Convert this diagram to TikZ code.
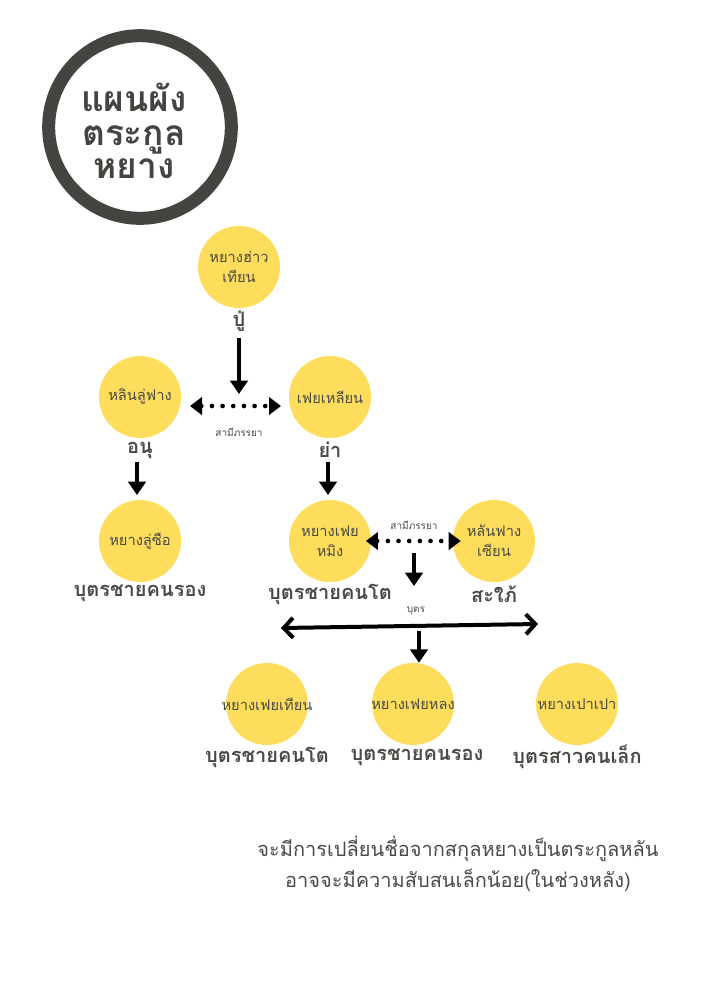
\documentclass[tikz,border=0pt]{standalone}
\usepackage{fontspec}
\setmainfont[Script=Thai]{Loma}
\usetikzlibrary{arrows.meta}
\definecolor{gold}{HTML}{FDDD5B}
\definecolor{ring}{HTML}{444440}
\definecolor{ink}{HTML}{4A4A46}
\tikzset{
  person/.style={circle, fill=gold, minimum size=61.5pt, inner sep=-14pt,
    align=center, text=ink, font=\fontsize{11}{15}\selectfont},
  role/.style={text=ink, font=\bfseries\fontsize{15}{17}\selectfont},
  small/.style={text=ink, font=\fontsize{7.5}{9}\selectfont},
  down/.style={line width=3.5pt, -{Triangle[length=10pt,width=13pt]}},
  wed/.style={line width=3.5pt, line cap=round, dash pattern=on 0pt off 8pt,
    {Triangle[length=9pt,width=13pt]}-{Triangle[length=9pt,width=13pt]}},
  kids/.style={line width=3pt, {Straight Barb[length=7pt,width=15pt]}-{Straight Barb[length=7pt,width=15pt]}}
}
\begin{document}
\begin{tikzpicture}[x=0.75pt, y=-0.75pt]
        \useasboundingbox (0,0) rectangle (707,1000);
        % logo
        \node[circle, draw=ring, line width=9.75pt, minimum size=137pt] (logo) at (140,127) {};
        \node[align=center, text=ring, font=\bfseries\fontsize{26.5}{25}\selectfont] (title) at (134,131) {แผนผัง\\ตระกูล\\หยาง};
        % people
        \node[person] (v0) at (239,267) {หยางฮ่าว\\เทียน};
        \node[person] (v1) at (140,397) {หลินลู่ฟาง};
        \node[person] (v2) at (330,397) {เฟยเหลียน};
        \node[person] (v3) at (140,541) {หยางลู่ซือ};
        \node[person] (v4) at (330,541) {หยางเฟย\\หมิง};
        \node[person] (v5) at (494,541) {หลันฟาง\\เซียน};
        \node[person] (v6) at (267,704) {หยางเฟยเทียน};
        \node[person] (v7) at (413,704) {หยางเฟยหลง};
        \node[person] (v8) at (577,704) {หยางเปาเปา};
        % roles
        \node[role] (t0) at (239,321) {ปู่};
        \node[role] (t1) at (140,450) {อนุ};
        \node[role] (t2) at (330,450) {ย่า};
        \node[role] (t3) at (140,593) {บุตรชายคนรอง};
        \node[role] (t4) at (330,594) {บุตรชายคนโต};
        \node[role] (t5) at (494,594) {สะใภ้};
        \node[role] (t6) at (267,757) {บุตรชายคนโต};
        \node[role] (t7) at (417,757) {บุตรชายคนรอง};
        \node[role] (t8) at (577,757) {บุตรสาวคนเล็ก};
        \node[small] (s0) at (239,432) {สามีภรรยา};
        \node[small] (s1) at (414,525) {สามีภรรยา};
        \node[small] (s2) at (416,611) {บุตร};
        % links
        \coordinate (m0) at (239,394);
        \coordinate (w0) at (190,406);
        \coordinate (w1) at (281,406);
        \coordinate (m1) at (414,553);
        \coordinate (m2) at (414,586);
        \coordinate (k0) at (281,628);
        \coordinate (k1) at (538,624);
        \coordinate (m3) at (419,631);
        \draw[down] (239,338) -- (m0);
        \draw[wed] (w0) -- (w1);
        \draw[down] (137,462) -- (137,495);
        \draw[down] (328,462) -- (328,495);
        \draw[wed] ([xshift=-4]v4.east) -- ([xshift=6]v5.west);
        \draw[down] (m1) -- (m2);
        \draw[kids] (k0) -- (k1);
        \draw[down] (m3) -- (m3 |- v7.north);
        % note
        \node[align=center, text=ink, font=\fontsize{15}{23}\selectfont] (note) at (458,864) {จะมีการเปลี่ยนชื่อจากสกุลหยางเป็นตระกูลหลัน\\อาจจะมีความสับสนเล็กน้อย(ในช่วงหลัง)};
\end{tikzpicture}
\end{document}
